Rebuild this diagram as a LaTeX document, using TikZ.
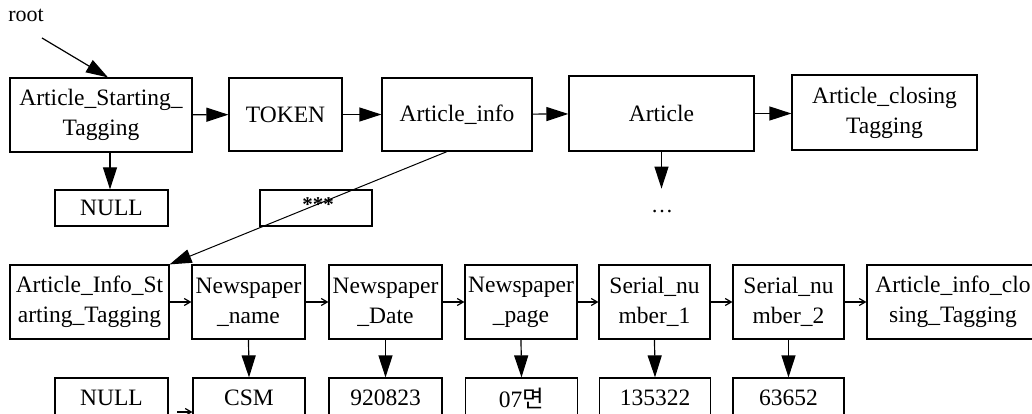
\documentclass[tikz,border=0pt]{standalone}
\usepackage{fontspec}
\setmainfont{Liberation Serif}
\newfontfamily\krfont{Noto Sans CJK KR}
\usetikzlibrary{arrows.meta,calc}
\begin{document}
\begin{tikzpicture}[x=1pt,y=-1pt,
  box/.style={draw,line width=1.2pt,inner sep=0pt,align=center,font=\fontsize{23.5}{30}\selectfont},
  big/.style={line width=1.2pt,-{Triangle[length=22pt,width=14pt]}},
  small/.style={line width=1.2pt,-{Straight Barb[length=6pt,width=7pt]}},
  lbl/.style={inner sep=0pt,font=\fontsize{22}{24}\selectfont}]
\clip (0,0) rectangle (1032,414);
\fill[white] (0,0) rectangle (1032,414);
% top row
\node[lbl] (root) at (26,15) {root};
\node[box,minimum width=182pt,minimum height=74pt] (ast) at (101,115) {Article\_Starting\_\\Tagging};
\node[box,minimum width=113pt,minimum height=73pt] (tok) at (285.5,114.5) {TOKEN};
\node[box,minimum width=150pt,minimum height=73pt] (ainfo) at (457,114.5) {Article\_info};
\node[box,minimum width=185pt,minimum height=75pt] (art) at (661.5,113.5) {Article};
\node[box,minimum width=185pt,minimum height=75pt] (aclose) at (884.5,112.5) {Article\_closing\\Tagging};
\node[box,minimum width=113pt,minimum height=36pt] (null1) at (111.5,208) {NULL};
\node[box,minimum width=112pt,minimum height=36pt] (stars) at (316,208) {};
\node[inner sep=0pt,font=\fontsize{21}{21}\selectfont\bfseries] (st) at (318,205) {***};
\node[lbl] (dots) at (662,212) {\ldots};
\coordinate (rootstart) at (42,38);
\draw[big] (rootstart) -- ([xshift=7pt]ast.north);
\draw[big] (ast) -- (tok);
\draw[big] (tok) -- (ainfo);
\draw[big] (ainfo) -- (art);
\draw[big] (art.east) -- (aclose.west |- art.east);
\draw[big] ([xshift=9pt]ast.south) -- ([xshift=9pt]ast.south |- null1.north);
\draw[big] (art.south) -- ++(0,37) coordinate (artend);
% second row
\begin{scope}[every node/.append style={minimum height=74pt}]
\node[box,minimum width=159pt] (ais) at (89.5,302) {Article\_Info\_St\\arting\_Tagging};
\node[box,minimum width=113pt] (nn) at (248.5,302) {Newspaper\\\_name};
\node[box,minimum width=113pt] (nd) at (385.5,302) {Newspaper\\\_Date};
\node[box,minimum width=112pt] (np) at (521,302) {Newspaper\\\_page};
\node[box,minimum width=111pt] (s1) at (654.5,302) {Serial\_nu\\mber\_1};
\node[box,minimum width=111pt] (s2) at (788.5,302) {Serial\_nu\\mber\_2};
\node[box,minimum width=172pt] (aic) at (953,302) {Article\_info\_clo\\sing\_Tagging};
\end{scope}
\draw[big,line width=1pt] ([xshift=-10pt]ainfo.south) -- (ais.north east);
\draw[small] (ais) -- (nn);
\draw[small] (nn) -- (nd);
\draw[small] (nd) -- (np);
\draw[small] (np) -- (s1);
\draw[small] (s1) -- (s2);
\draw[small] (s2) -- (aic);
% third row
\begin{scope}[every node/.append style={minimum height=40pt}]
\node[box,minimum width=113pt] (null2) at (111.5,398) {NULL};
\node[box,minimum width=112pt] (csm) at (249,398) {CSM};
\node[box,minimum width=113pt] (v1) at (385.5,398) {920823};
\node[box,minimum width=112pt] (v2) at (521.5,398) {07{\krfont 면}};
\node[box,minimum width=111pt] (v3) at (655,398) {135322};
\node[box,minimum width=111pt] (v4) at (788.5,398) {63652};
\end{scope}
\draw[big] (nn.south) -- (csm.north);
\draw[big] (nd.south) -- (v1.north);
\draw[big] (np.south) -- (v2.north);
\draw[big] (s1.south) -- (v3.north);
\draw[big] (s2.south) -- (v4.north);
\coordinate (nb) at (177,412);
\draw[small] (nb) -- (csm.west |- nb);
\end{tikzpicture}
\end{document}
